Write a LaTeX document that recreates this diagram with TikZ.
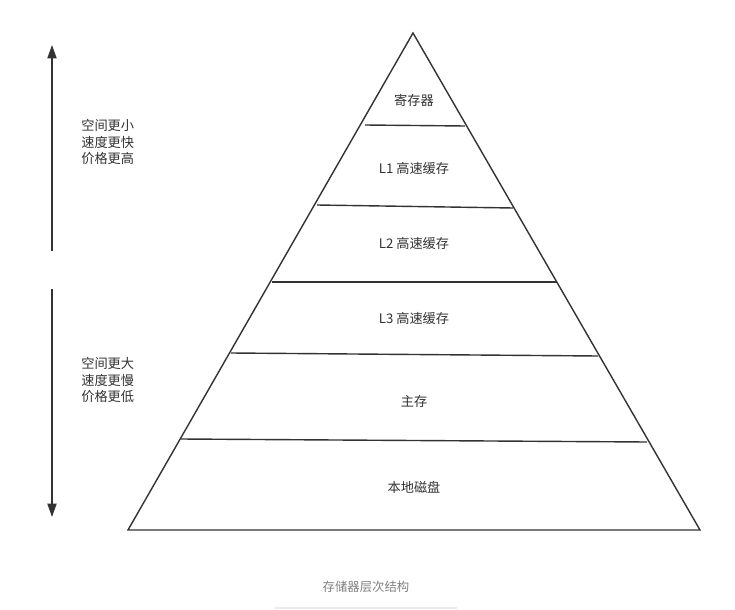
\documentclass[tikz,border=0pt]{standalone}
\usepackage{fontspec}
\setmainfont{Noto Sans CJK SC}
\usepackage{tikz}
\usetikzlibrary{arrows.meta,positioning,calc}

\begin{document}
\begin{tikzpicture}[x=0.025cm, y=-0.025cm]
    % Stili
    \tikzset{
        edge/.style={draw=black!80, line width=1pt},
        level/.style={font=\fontsize{9.4}{11}\selectfont, text=black!80, inner sep=0pt},
        side/.style={font=\fontsize{9.4}{11.4}\selectfont, text=black!80, align=left, anchor=west, inner sep=0pt},
        arrow/.style={-{Triangle[length=9.5pt, width=6.5pt]}, draw=black!80, line width=1pt},
        caption/.style={font=\fontsize{8.8}{10}\selectfont, text=black!50, inner sep=0pt}
    }
    \useasboundingbox (0,0) rectangle (735,610);

    % Piramide
    \coordinate (apex) at (413,33);
    \coordinate (bl) at (128,530);
    \coordinate (br) at (700,530);
    \draw[edge, line join=miter] (apex) -- (br) -- (bl) -- cycle;

    % Separatori
    \draw[edge] (365,125) coordinate (s1l) -- (465,126) coordinate (s1r);
    \draw[edge] (317,205) coordinate (s2l) -- (513,208) coordinate (s2r);
    \draw[edge] (272,282) coordinate (s3l) -- (557,282) coordinate (s3r);
    \draw[edge] (231,353) coordinate (s4l) -- (598,356) coordinate (s4r);
    \draw[edge] (181,439) coordinate (s5l) -- (647,442) coordinate (s5r);

    % Livelli
    \node[level] (reg) at (414,100) {寄存器};
    \node[level] (l1) at (414,168) {L1 高速缓存};
    \node[level] (l2) at (414,243) {L2 高速缓存};
    \node[level] (l3) at (414,318) {L3 高速缓存};
    \node[level] (mem) at (414,401) {主存};
    \node[level] (disk) at (414,487) {本地磁盘};

    % Frecce laterali
    \coordinate (upA) at (52,251);
    \coordinate (upB) at (52,45);
    \coordinate (dnA) at (52,289);
    \coordinate (dnB) at (52,517);
    \draw[arrow] (upA) -- (upB);
    \draw[arrow] (dnA) -- (dnB);

    % Testi laterali
    \node[side] (fast) at (81,142) {空间更小\\速度更快\\价格更高};
    \node[side] (slow) at (81,380) {空间更大\\速度更慢\\价格更低};

    % Didascalia
    \node[caption] (title) at (366,587) {存储器层次结构};
    \draw[black!8, line width=0.8pt] (275,608) -- (457,608);
\end{tikzpicture}
\end{document}
